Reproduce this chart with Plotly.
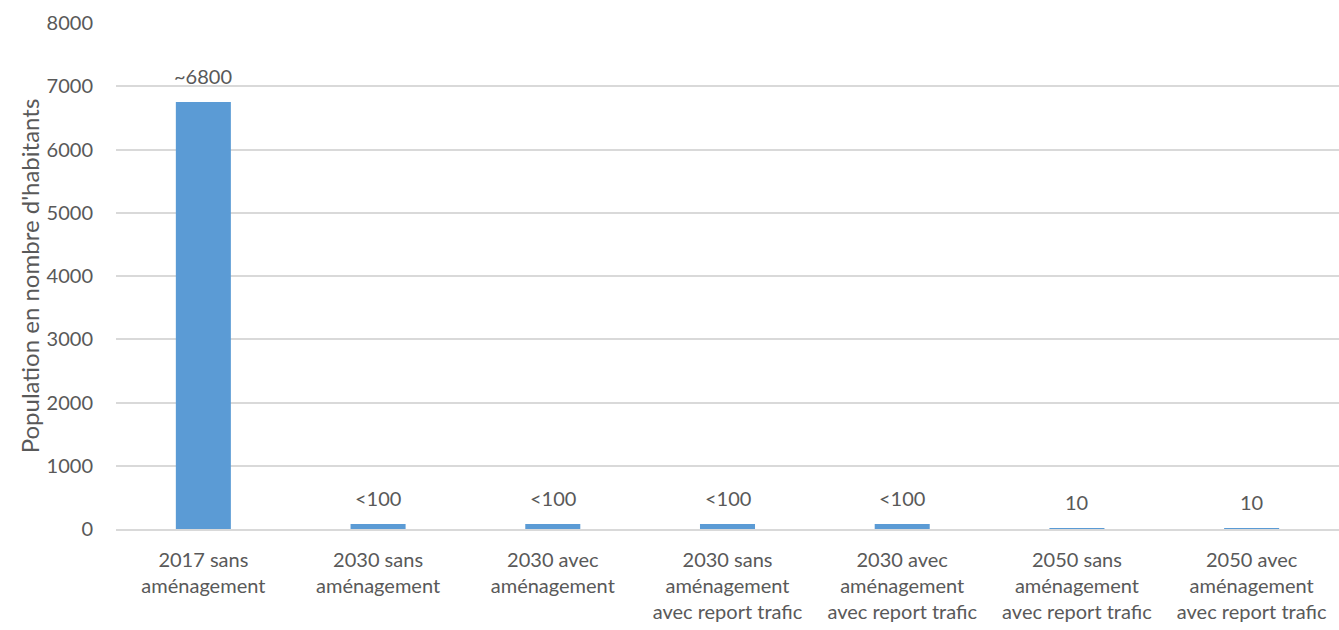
import plotly.graph_objects as go

# Scenarios and exposed population
categories = [
    "2017 sans<br>aménagement",
    "2030 sans<br>aménagement",
    "2030 avec<br>aménagement",
    "2030 sans<br>aménagement<br>avec report trafic",
    "2030 avec<br>aménagement<br>avec report trafic",
    "2050 sans<br>aménagement<br>avec report trafic",
    "2050 avec<br>aménagement<br>avec report trafic",
]
population = [6750, 80, 80, 80, 80, 10, 10]
value_labels = ["~6800", "<100", "<100", "<100", "<100", "10", "10"]
y_ticks = [0, 1000, 2000, 3000, 4000, 5000, 6000, 7000, 8000]

FONT = "Lato, Carlito, 'Liberation Sans', sans-serif"
GREY = "#595959"

fig = go.Figure(
    go.Bar(
        x=categories,
        y=population,
        marker=dict(color="#5b9bd5", line=dict(width=0)),
        hoverinfo="x+y",
    )
)

# Value labels sitting above each bar
for cat, val, lab in zip(categories, population, value_labels):
    fig.add_annotation(
        x=cat,
        y=val,
        text=lab,
        showarrow=False,
        yanchor="bottom",
        yshift=12,
        font=dict(family=FONT, size=20, color=GREY),
    )

fig.update_layout(
    width=1339,
    height=630,
    margin=dict(l=116, r=0, t=23, b=101),
    paper_bgcolor="white",
    plot_bgcolor="white",
    bargap=0.685,
    showlegend=False,
    font=dict(family=FONT, size=20, color=GREY),
)

fig.update_xaxes(
    showgrid=False,
    showline=True,
    linecolor="#d9d9d9",
    linewidth=2,
    ticks="",
    tickangle=0,
    ticklabelstandoff=12,
    tickfont=dict(family=FONT, size=20, color=GREY),
    automargin=False,
)

fig.update_yaxes(
    range=[0, 8000],
    tickvals=y_ticks,
    showgrid=True,
    gridcolor="#d9d9d9",
    gridwidth=2,
    zeroline=False,
    showline=False,
    ticks="",
    ticklabelstandoff=22,
    tickfont=dict(family=FONT, size=20, color=GREY),
    title=dict(
        text="Population en nombre d'habitants",
        font=dict(family=FONT, size=24, color=GREY),
        standoff=0,
    ),
    automargin=False,
)

fig.write_html("out.html")
